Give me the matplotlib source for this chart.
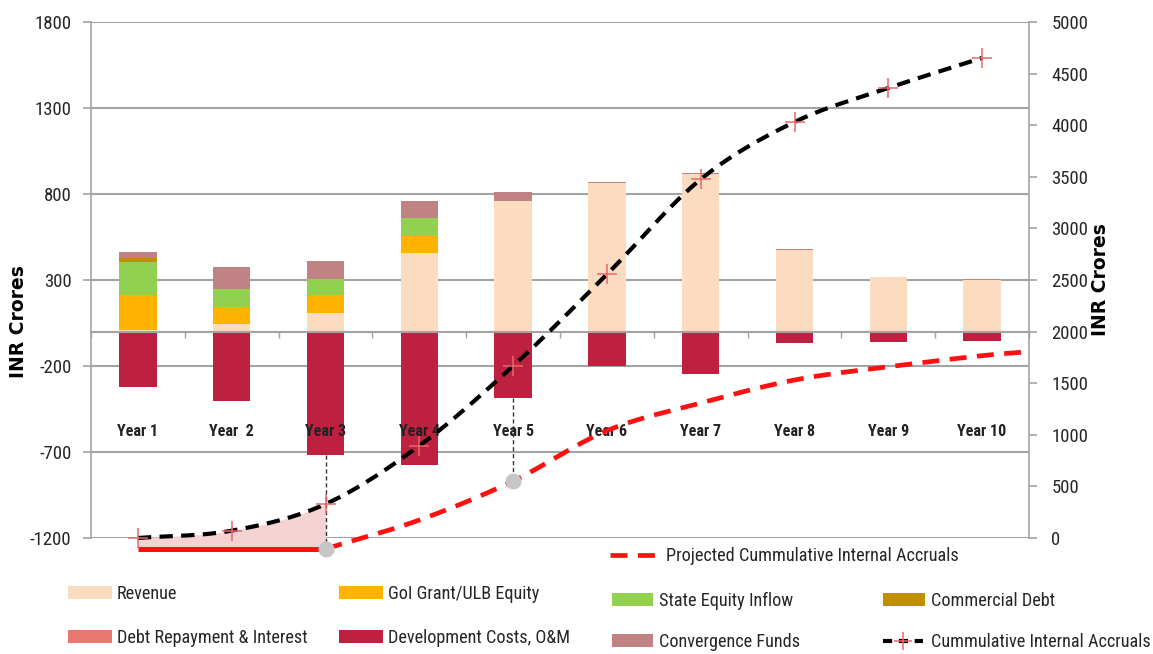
import numpy as np
import matplotlib
matplotlib.use("Agg")
import matplotlib.pyplot as plt
from matplotlib import font_manager
from matplotlib.font_manager import FontProperties
from matplotlib.patches import Patch
from matplotlib.lines import Line2D
from matplotlib.textpath import TextToPath

plt.rcParams["axes.unicode_minus"] = False

# ---------------- data ----------------
years = ["Year 1", "Year  2", "Year 3", "Year 4", "Year 5",
         "Year 6", "Year 7", "Year 8", "Year 9", "Year 10"]
revenue = [10, 45, 110, 455, 762, 865, 916, 477, 315, 302]
goi_grant = [200, 100, 100, 102, 0, 0, 0, 0, 0, 0]
state_equity = [195, 100, 97, 101, 0, 0, 0, 0, 0, 0]
commercial_debt = [23, 0, 0, 0, 0, 0, 0, 0, 0, 0]
convergence = [37, 128, 106, 101, 50, 5, 5, 4, 3, 3]
debt_repayment = [0, 0, 0, 0, 0, 0, 0, 0, 0, 0]
dev_costs = [-320, -405, -718, -773, -384, -200, -248, -69, -62, -56]

cumulative = [0, 71, 329, 894, 1667, 2555, 3476, 4031, 4360, 4652]
projected_flat = -105            # Year 1 .. Year 3 (solid part)
projected_pos = [3, 4, 5, 6, 7, 8, 9, 10, 10.5]   # year number
projected = [-105, 174, 552, 1040, 1308, 1531, 1660, 1767, 1805]

left_ticks = [-1200, -700, -200, 300, 800, 1300, 1800]
right_ticks = list(range(0, 5001, 500))

# ---------------- fonts ----------------
ttf = font_manager.fontManager.ttflist
names = {f.name for f in ttf}
narrow_family, narrow_stretch = None, "normal"
for cand in ["Liberation Sans Narrow", "Arial Narrow", "Roboto Condensed",
             "Open Sans Condensed", "Noto Sans Condensed", "DejaVu Sans Condensed"]:
    if cand in names:
        narrow_family = cand
        break
if narrow_family is None:
    for fam in ["Roboto", "Open Sans", "Noto Sans", "DejaVu Sans", "Liberation Sans"]:
        if any(f.name == fam and str(f.stretch) in ("condensed", "semi-condensed", "extra-condensed")
               for f in ttf):
            narrow_family, narrow_stretch = fam, "condensed"
            break
if narrow_family is None:
    narrow_family = "Liberation Sans" if "Liberation Sans" in names else "DejaVu Sans"

_ttp = TextToPath()


def fitted(text, target_px, weight="normal", base=14.0, maxsize=None):
    fp = FontProperties(family=narrow_family, stretch=narrow_stretch,
                        weight=weight, size=base)
    w, h, d = _ttp.get_text_width_height_descent(text, fp, ismath=False)
    size = base * target_px / (w * 100 / 72)
    if maxsize:
        size = min(size, maxsize)
    return FontProperties(family=narrow_family, stretch=narrow_stretch,
                          weight=weight, size=size)


fp_tick = fitted("1800", 37, maxsize=14.5)
fp_year = fitted("Year 10", 49, weight="bold", maxsize=13.5)
fp_leg = fitted("Projected Cummulative Internal Accruals", 294, maxsize=14.3)
fp_axlab = FontProperties(family="DejaVu Sans", weight="bold", size=13.5)

# ---------------- style ----------------
C_REV = "#fcdcc0"
C_GOI = "#ffb300"
C_STATE = "#92d050"
C_COM = "#bf8f00"
C_DEBT = "#e8776f"
C_DEV = "#be2140"
C_CONV = "#c08282"
GRID = "#a3a3a3"
TXT = "#262626"

W, H = 1153, 654
fig = plt.figure(figsize=(W / 100, H / 100), dpi=100)
ax = fig.add_axes([91 / W, 1 - 538 / H, (1029 - 91) / W, (538 - 22) / H])

x = np.arange(len(years))
bw = 0.4

# stacked positive bars
bottom = np.zeros(len(years))
for vals, col in [(revenue, C_REV), (goi_grant, C_GOI), (state_equity, C_STATE),
                  (commercial_debt, C_COM), (convergence, C_CONV)]:
    v = np.array(vals, dtype=float)
    ax.bar(x, v, bw, bottom=bottom, color=col, zorder=2, linewidth=0)
    bottom += v
# negative bars
nb = np.zeros(len(years))
for vals, col in [(dev_costs, C_DEV), (debt_repayment, C_DEBT)]:
    v = np.array(vals, dtype=float)
    ax.bar(x, v, bw, bottom=nb, color=col, zorder=2, linewidth=0)
    nb += v

ax.set_xlim(-0.5, len(years) - 0.5)
ax.set_ylim(-1200, 1800)
ax.set_yticks(left_ticks)
ax.yaxis.grid(True, color=GRID, lw=1.5)
ax.set_axisbelow(True)
for s in ["top", "right"]:
    ax.spines[s].set_visible(False)
ax.spines["left"].set_color(GRID)
ax.spines["left"].set_linewidth(1.2)
ax.spines["bottom"].set_position(("data", 0))
ax.spines["bottom"].set_color(GRID)
ax.spines["bottom"].set_linewidth(1.5)
ax.set_xticks(np.arange(-0.5, len(years) + 0.5, 1.0))
ax.set_xticklabels([])
ax.tick_params(axis="x", direction="out", length=4, color=GRID, width=1)
ax.tick_params(axis="y", length=6, color=GRID, width=1.2, pad=8, labelcolor=TXT)
for lab in ax.get_yticklabels():
    lab.set_fontproperties(fp_tick)

for xi, name in zip(x, years):
    ax.text(xi, -581, name, ha="center", va="center", fontproperties=fp_year,
            color="#222222", zorder=5)

fig.text(19 / W, 1 - 322 / H, "INR Crores", rotation=90, ha="center", va="center",
         fontproperties=fp_axlab, color="black")
fig.text(1100 / W, 1 - 280 / H, "INR Crores", rotation=90, ha="center", va="center",
         fontproperties=fp_axlab, color="black")

# ---------------- right axis ----------------
ax2 = ax.twinx()
ax2.set_ylim(0, 5000)
ax2.set_yticks(right_ticks)
for s in ["top", "bottom", "left"]:
    ax2.spines[s].set_visible(False)
ax2.spines["right"].set_color(GRID)
ax2.spines["right"].set_linewidth(1.2)
ax2.tick_params(axis="y", length=6, color=GRID, width=1.2, pad=10, labelcolor=TXT)
for lab in ax2.get_yticklabels():
    lab.set_fontproperties(fp_tick)


def catmull(px, py, n=30):
    px = np.asarray(px, float)
    py = np.asarray(py, float)
    P = np.vstack([px, py]).T
    P = np.vstack([2 * P[0] - P[1], P, 2 * P[-1] - P[-2]])
    out = []
    for i in range(1, len(P) - 2):
        p0, p1, p2, p3 = P[i - 1], P[i], P[i + 1], P[i + 2]
        t = np.linspace(0, 1, n, endpoint=(i == len(P) - 3))[:, None]
        m1 = (p2 - p0) / 2
        m2 = (p3 - p1) / 2
        h00 = 2 * t**3 - 3 * t**2 + 1
        h10 = t**3 - 2 * t**2 + t
        h01 = -2 * t**3 + 3 * t**2
        h11 = t**3 - t**2
        out.append(h00 * p1 + h10 * m1 + h01 * p2 + h11 * m2)
    out = np.vstack(out)
    return out[:, 0], out[:, 1]


def l2r(v):
    """left-axis value -> right-axis value"""
    return (v + 1200) * 5000 / 3000


# cumulative internal accruals (black)
cx, cy = catmull(x, cumulative)
m = cx <= 2 + 1e-9
ax2.fill_between(cx[m], cy[m], projected_flat, color="#f6d3d3", lw=0,
                 zorder=1, clip_on=False)

# projected (red)
ax2.plot([0, 2], [projected_flat, projected_flat], color="#ff1010", lw=3.6,
         solid_capstyle="butt", clip_on=False, zorder=3)
px_, py_ = catmull(np.array(projected_pos) - 1, projected)
ax2.plot(px_, py_, color="#ff1010", lw=3.4, dashes=(3.6, 2.2), clip_on=False, zorder=3)

ax2.plot(cx, cy, color="black", lw=3.0, dashes=(3.2, 2.0), zorder=4, clip_on=False)
ax2.plot(x, cumulative, linestyle="none", marker="+", ms=15, mew=1.1,
         color="#e8676a", zorder=5, clip_on=False)

# guide lines and grey circles
for yi in [2, 4]:
    pv = np.interp(yi, np.array(projected_pos) - 1, projected)
    ax2.plot([yi, yi], [l2r(dev_costs[yi]), pv], color="#333333", lw=1.0,
             dashes=(3, 2), zorder=3, clip_on=False)
    ax2.plot([yi], [pv], marker="o", ms=10.5, color="#c6c6c6", mec="#c6c6c6",
             zorder=6, clip_on=False)

# ---------------- legend ----------------
leg_px = fp_leg.get_size_in_points() * 100 / 72


def leg(handle, label, xh, yc, hpx=44, gap=5, hh=12):
    fig.legend([handle], [label], loc="center left",
               bbox_to_anchor=(xh / W, 1 - yc / H), frameon=False,
               borderpad=0, borderaxespad=0, handlelength=hpx / leg_px,
               handleheight=hh / leg_px, handletextpad=gap / leg_px,
               prop=fp_leg, labelcolor=TXT)


leg(Line2D([], [], color="#ff1010", lw=3.4, dashes=(3.6, 2.2)),
    "Projected Cummulative Internal Accruals", 610, 556, hpx=45, gap=11)
leg(Patch(color=C_REV, lw=0), "Revenue", 68, 594)
leg(Patch(color=C_GOI, lw=0), "GoI Grant/ULB Equity", 339, 594)
leg(Patch(color=C_STATE, lw=0), "State Equity Inflow", 612, 601, hpx=41, gap=6)
leg(Patch(color=C_COM, lw=0), "Commercial Debt", 883, 601, hpx=42, gap=6)
leg(Patch(color=C_DEBT, lw=0), "Debt Repayment & Interest", 68, 638)
leg(Patch(color=C_DEV, lw=0), "Development Costs, O&M", 339, 638)
leg(Patch(color=C_CONV, lw=0), "Convergence Funds", 612, 642, hpx=41, gap=6)
leg(Line2D([], [], color="black", lw=3.0, dashes=(2.2, 1.6), marker="+", ms=13,
           mec="#e8676a", mew=1.1),
    "Cummulative Internal Accruals", 883, 642, hpx=40, gap=8)

fig.savefig("out.png", dpi=100)
